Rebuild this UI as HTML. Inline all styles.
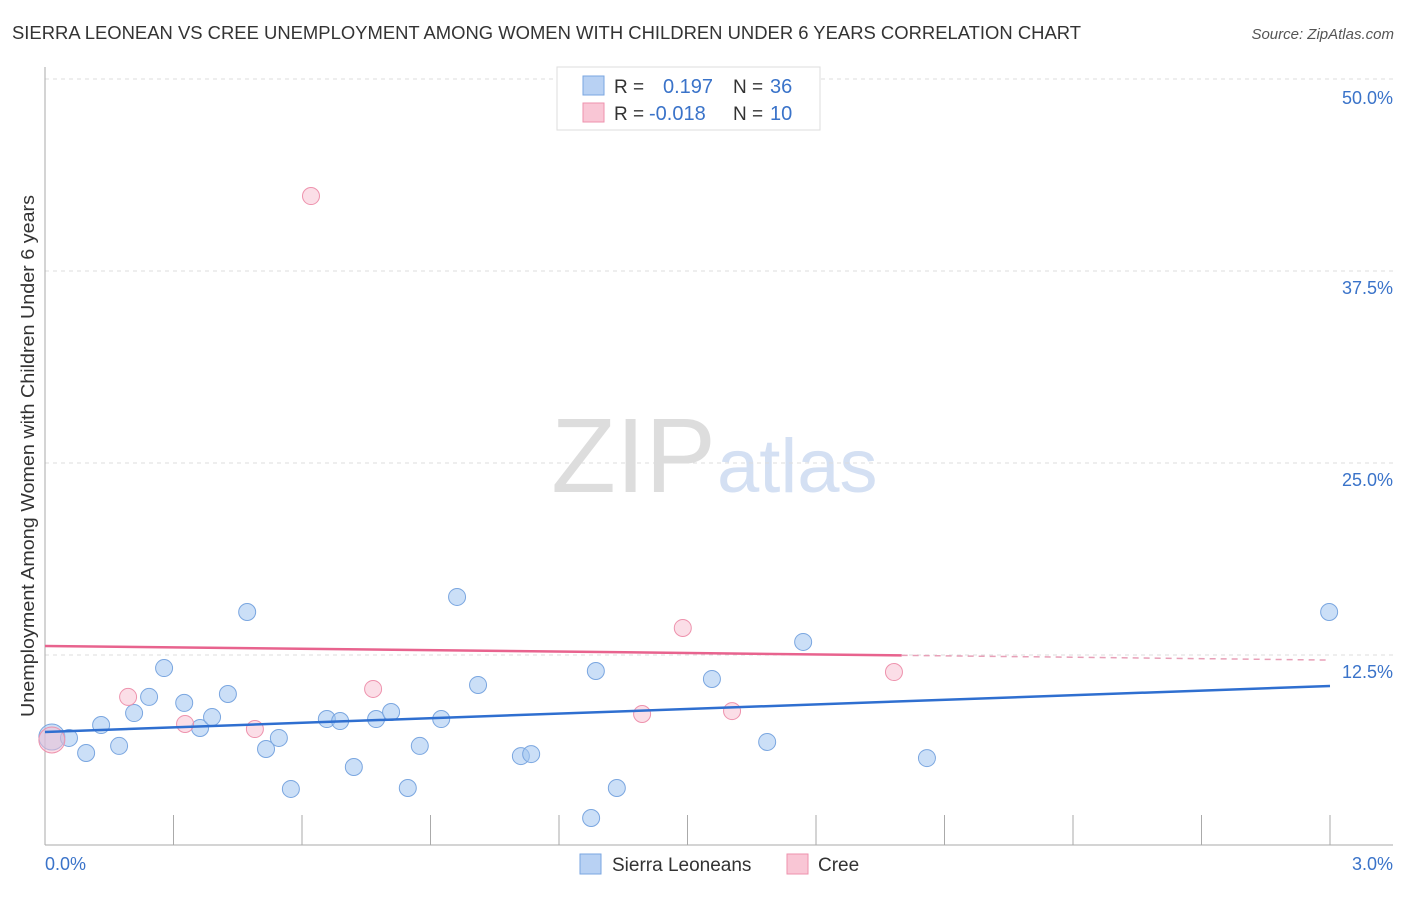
<!DOCTYPE html>
<html><head><meta charset="utf-8">
<style>
body{margin:0;background:#fff;font-family:"Liberation Sans",sans-serif;}
svg text{font-family:"Liberation Sans",sans-serif;}
</style></head>
<body>
<svg id="chart" width="1406" height="892">
<text x="12" y="39" font-size="18" fill="#333" textLength="1069" lengthAdjust="spacingAndGlyphs">SIERRA LEONEAN VS CREE UNEMPLOYMENT AMONG WOMEN WITH CHILDREN UNDER 6 YEARS CORRELATION CHART</text>
<text x="1394" y="39" font-size="15" fill="#555" font-style="italic" text-anchor="end">Source: ZipAtlas.com</text>
<text x="716" y="492" font-size="106" fill="#ddd" text-anchor="end" font-family="Liberation Serif">ZIP</text>
<text x="717" y="492" font-size="76" fill="#d4e0f3">atlas</text>
<text x="34" y="456" font-size="18" fill="#333" text-anchor="middle" textLength="522" lengthAdjust="spacingAndGlyphs" transform="rotate(-90 34 456)">Unemployment Among Women with Children Under 6 years</text>
<g id="grid"></g><g id="marks"></g>
<g>
<rect x="557" y="67" width="263" height="63" fill="#fff" stroke="#ddd"/>
<rect x="583" y="76" width="21" height="19" fill="#b8d1f3" stroke="#7aa6e0"/>
<rect x="583" y="103" width="21" height="19" fill="#f9c6d5" stroke="#ee92ad"/>
<text x="614" y="93" font-size="19" fill="#333">R =</text>
<text x="663" y="93" font-size="20" fill="#3a73c9">0.197</text>
<text x="733" y="93" font-size="19" fill="#333">N =</text>
<text x="770" y="93" font-size="20" fill="#3a73c9">36</text>
<text x="614" y="120" font-size="19" fill="#333">R =</text>
<text x="649" y="120" font-size="20" fill="#3a73c9">-0.018</text>
<text x="733" y="120" font-size="19" fill="#333">N =</text>
<text x="770" y="120" font-size="20" fill="#3a73c9">10</text>
</g>
<g>
<rect x="580" y="854" width="21" height="20" fill="#b8d1f3" stroke="#7aa6e0"/>
<text x="612" y="871" font-size="19" fill="#333">Sierra Leoneans</text>
<rect x="787" y="854" width="21" height="20" fill="#f9c6d5" stroke="#ee92ad"/>
<text x="818" y="871" font-size="19" fill="#333">Cree</text>
</g>
</svg>
<script>
const blueX=[0.016,0.056,0.096,0.131,0.173,0.208,0.243,0.278,0.325,0.362,0.390,0.427,0.472,0.516,0.546,0.574,0.658,0.689,0.721,0.773,0.808,0.847,0.875,0.925,0.962,1.011,1.111,1.135,1.275,1.286,1.335,1.557,1.686,1.770,2.059,2.998];
const blueY=[7.16,7.10,6.12,7.94,6.58,8.72,9.77,11.65,9.38,7.75,8.46,9.96,15.30,6.38,7.10,3.78,8.33,8.20,5.21,8.33,8.79,3.84,6.58,8.33,16.28,10.55,5.92,6.05,1.89,11.46,3.84,10.94,6.84,13.35,5.79,15.30];
const pinkX=[0.016,0.194,0.327,0.490,0.621,0.766,1.394,1.489,1.604,1.982];
const pinkY=[6.97,9.77,8.01,7.68,42.38,10.29,8.66,14.26,8.85,11.39];
const yTicks=[12.5,25,37.5,50];
const yTickLabels=["12.5%","25.0%","37.5%","50.0%"];
const blueTrend=[7.49,10.48];
const pinkTrend=[13.09,12.17];
const NS="http://www.w3.org/2000/svg";
const X=v=>45+v/3*1285, Y=v=>847-v/12.5*192;
function mk(p,t,a){const e=document.createElementNS(NS,t);for(const k in a)e.setAttribute(k,a[k]);p.appendChild(e);return e;}
const g=document.getElementById('grid'),m=document.getElementById('marks');
mk(g,'line',{x1:45,y1:79,x2:1393,y2:79,stroke:'#ddd','stroke-dasharray':'4,4'});
yTicks.forEach((t,i)=>{
 let ln=mk(g,'line',{x1:45,y1:Y(t),x2:1393,y2:Y(t),stroke:'#ddd','stroke-dasharray':'4,4'});
 
 
 let tx=mk(g,'text',{x:1393,y:t==50?104:Y(t)+23,'font-size':18,fill:'#3a73c9','text-anchor':'end'});
 tx.textContent=yTickLabels[i];
 
 
});
mk(g,'line',{x1:45,y1:67,x2:45,y2:845,stroke:'#aaa'});
mk(g,'line',{x1:45,y1:845,x2:1393,y2:845,stroke:'#aaa'});
for(let i=1;i<=10;i++){let x=45+i*128.5;mk(g,'line',{x1:x,y1:815,x2:x,y2:845,stroke:'#aaa'});}
let t0=mk(g,'text',{x:45,y:870,'font-size':18,fill:'#3a73c9'});t0.textContent='0.0%';


let t1=mk(g,'text',{x:1393,y:870,'font-size':18,fill:'#3a73c9','text-anchor':'end'});t1.textContent='3.0%';


blueX.forEach((x,i)=>{const c=mk(m,'circle',{cx:X(x),cy:Y(blueY[i]),r:i==0?13:8.5,fill:'rgba(160,196,240,0.55)',stroke:'#7aa6e0','stroke-width':1});
 
 });
pinkX.forEach((x,i)=>{const c=mk(m,'circle',{cx:X(x),cy:Y(pinkY[i]),r:i==0?13:8.5,fill:'rgba(248,190,208,0.5)',stroke:'#ee92ad','stroke-width':1});
 
 });
const bl=mk(m,'line',{x1:X(0),y1:Y(blueTrend[0]),x2:X(3),y2:Y(blueTrend[1]),stroke:'#2f6fd0','stroke-width':2.5});


const pm=pinkTrend[0]+(pinkTrend[1]-pinkTrend[0])*2/3;
const pl=mk(m,'line',{x1:X(0),y1:Y(pinkTrend[0]),x2:X(2),y2:Y(pm),stroke:'#e8638e','stroke-width':2.5});


const pd=mk(m,'line',{x1:X(2),y1:Y(pm),x2:X(3),y2:Y(pinkTrend[1]),stroke:'#e8a0b8','stroke-width':1.5,'stroke-dasharray':'6,5'});


</script>
</body></html>
